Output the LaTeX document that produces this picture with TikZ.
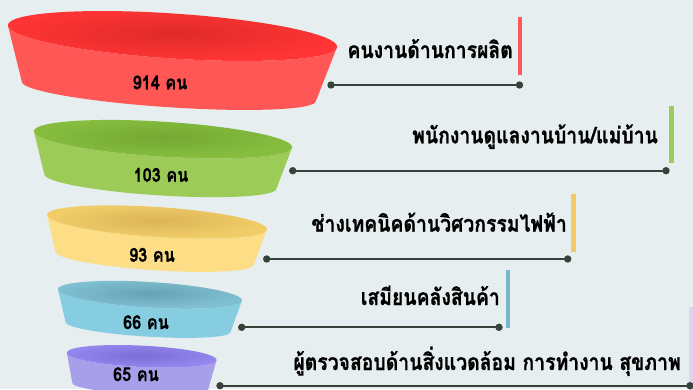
\documentclass[tikz,border=0pt]{standalone}
\usepackage{fontspec}
\usepackage{graphicx}
\newfontfamily\thaifont[Script=Thai, BoldFeatures={FakeBold=0.8}]{Loma}
\newcommand\tallthai[1]{\scalebox{1.02}[1.2]{#1}}
\definecolor{bg}{HTML}{E6EEEF}
\definecolor{bglight}{HTML}{ECF3F3}
\definecolor{linec}{HTML}{36423A}
\definecolor{redside}{HTML}{FF5656}
\definecolor{redin}{HTML}{DF2A2A}
\definecolor{redout}{HTML}{FF3434}
\definecolor{greenside}{HTML}{9CCB58}
\definecolor{greenin}{HTML}{74A833}
\definecolor{greenout}{HTML}{86BD3F}
\definecolor{yellowside}{HTML}{FDDD86}
\definecolor{yellowin}{HTML}{DBB457}
\definecolor{yellowout}{HTML}{F1CD68}
\definecolor{blueside}{HTML}{86CDE2}
\definecolor{bluein}{HTML}{68A2B4}
\definecolor{blueout}{HTML}{7EBFD1}
\definecolor{purpleside}{HTML}{A89FEA}
\definecolor{purplein}{HTML}{7A6DD4}
\definecolor{purpleout}{HTML}{9486EE}
\definecolor{redbar}{HTML}{FF5A5A}
\definecolor{greenbar}{HTML}{9CCB58}
\definecolor{yellowbar}{HTML}{F3CB66}
\definecolor{bluebar}{HTML}{78B6CB}
\definecolor{purplebar}{HTML}{DDD3F2}
\newcommand\funnelseg[9]{%
  \begin{scope}[shift={(#1,-#2)},rotate=-#3]
    \fill[#9side] (-#4,0) -- (-#7,-#6)
      arc[start angle=180,end angle=360,x radius=#7,y radius=#8]
      -- (#4,0)
      arc[start angle=0,end angle=-180,x radius=#4,y radius=#5] -- cycle;
    \shade[inner color=#9in, outer color=#9out] (0,0) ellipse[x radius=#4, y radius=#5];
  \end{scope}}
\begin{document}
\begin{tikzpicture}[x=1pt,y=1pt,
  lbl/.style={font=\thaifont\bfseries\fontsize{19}{19}\selectfont, inner sep=0pt, anchor=base east, text=black},
  numlbl/.style={font=\thaifont\bfseries\fontsize{16}{16}\selectfont, inner sep=0pt, anchor=base, text=black},
  dot/.style={circle, fill=linec, inner sep=0pt, minimum size=7.4pt},
  conn/.style={draw=linec, line width=2.2pt},
  bar/.style={line width=4.8pt}]
\useasboundingbox (0,0) rectangle (693,-389);
\clip (0,0) rectangle (693,-389);
\fill[bg] (0,0) rectangle (693,-389);
% subtle background shapes
\fill[bglight] (425,0) .. controls (400,40) and (380,70) .. (345,68) .. controls (320,66) and (318,30) .. (330,0) -- cycle;
\fill[bglight, opacity=0.6] (470,100) .. controls (520,110) and (530,170) .. (500,230) -- (420,389) -- (330,389) -- (420,180) .. controls (440,130) and (450,98) .. (470,100) -- cycle;
\fill[bglight, opacity=0.6] (0,150) -- (60,389) -- (0,389) -- cycle;
% funnel segments
\funnelseg{172.5}{36}{3.8}{165}{22.5}{55.6}{147.3}{15.7}{red}
\funnelseg{163}{139.2}{3.6}{129.4}{17.5}{42.3}{116.3}{14}{green}
\funnelseg{157}{222}{3.8}{110.2}{15}{36.3}{99.4}{12}{yellow}
\funnelseg{150}{294.8}{3.5}{92.2}{12.8}{32.4}{82.6}{9.5}{blue}
\funnelseg{141.7}{356.3}{2.8}{75}{10.7}{30}{68}{8}{purple}
% numbers
\node[numlbl] (n1) at (160,-89.3) {\tallthai{914 คน}};
\node[numlbl] (n2) at (161,-181.7) {\tallthai{103 คน}};
\node[numlbl] (n3) at (152,-261.7) {\tallthai{93 คน}};
\node[numlbl] (n4) at (146,-329) {\tallthai{66 คน}};
\node[numlbl] (n5) at (136,-381) {\tallthai{65 คน}};
% labels
\node[lbl] (l1) at (513,-58) {\tallthai{คนงานด้านการผลิต}};
\node[lbl] (l2) at (658,-143.3) {\tallthai{พนักงานดูแลงานบ้าน/แม่บ้าน}};
\node[lbl] (l3) at (567,-231.7) {\tallthai{ช่างเทคนิคด้านวิศวกรรมไฟฟ้า}};
\node[lbl] (l4) at (500,-305) {\tallthai{เสมียนคลังสินค้า}};
\node[lbl] (l5) at (681,-370) {\tallthai{ผู้ตรวจสอบด้านสิ่งแวดล้อม การทำงาน สุขภาพ}};
% bars
\draw[bar, redbar] (520,-17) -- (520,-75);
\draw[bar, greenbar] (671.7,-106) -- (671.7,-163);
\draw[bar, yellowbar] (573.3,-194) -- (573.3,-251.7);
\draw[bar, bluebar] (508,-270) -- (508,-327.7);
\draw[bar, purplebar] (691.7,-307) -- (691.7,-395);
% connectors
\node[dot] (a1) at (331,-85) {};
\node[dot] (b1) at (519.5,-85) {};
\node[dot] (a2) at (292.7,-170.7) {};
\node[dot] (b2) at (666,-170.7) {};
\node[dot] (a3) at (266.7,-259) {};
\node[dot] (b3) at (567.7,-259) {};
\node[dot] (a4) at (241.7,-327.3) {};
\node[dot] (b4) at (499,-327.3) {};
\node[dot] (a5) at (220,-385.7) {};
\node[dot] (b5) at (690,-385.7) {};
\draw[conn] (a1.center) -- (b1.center);
\draw[conn] (a2.center) -- (b2.center);
\draw[conn] (a3.center) -- (b3.center);
\draw[conn] (a4.center) -- (b4.center);
\draw[conn] (a5.center) -- (b5.center);
\end{tikzpicture}
\end{document}
